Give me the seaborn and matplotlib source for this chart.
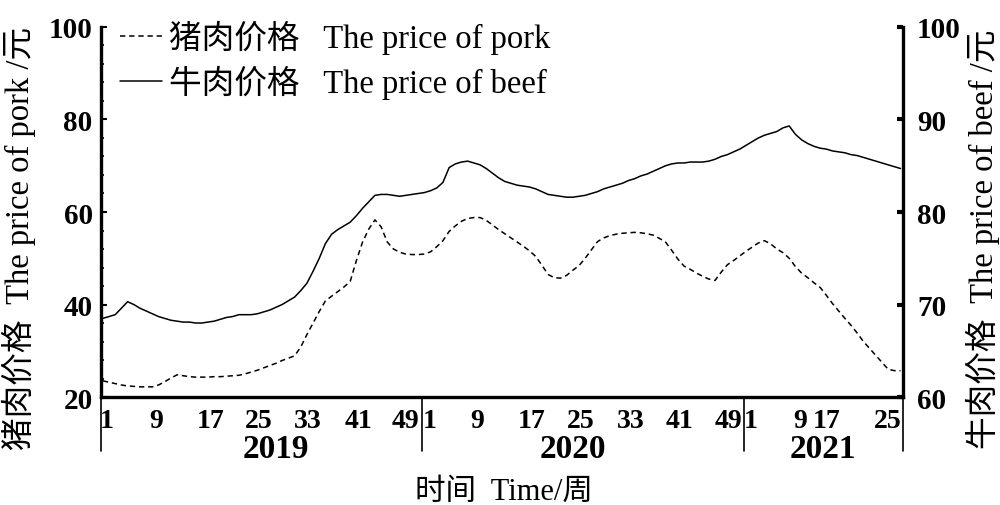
import numpy as np
import pandas as pd
import matplotlib
matplotlib.use("Agg")
import matplotlib.pyplot as plt
import matplotlib.transforms as mtransforms
import seaborn as sns

# ---------------- data ----------------
years = ["2019", "2020", "2021"]
weeks_per_year = [52, 52, 26]

pork = [
    23.5, 23.2, 22.9, 22.6, 22.4, 22.3, 22.2, 22.2, 22.2, 22.6,
    23.3, 24.1, 24.8, 24.6, 24.4, 24.3, 24.3, 24.3, 24.4, 24.4,
    24.5, 24.6, 24.7, 25.0, 25.4, 25.8, 26.3, 26.8, 27.3, 27.9,
    28.4, 28.9, 30.8, 33.5, 36.0, 38.5, 40.8, 41.8, 42.8, 43.8,
    45.0, 49.5, 53.5, 56.3, 58.3, 56.8, 53.5, 52.0, 51.3, 50.9,
    50.8, 50.8,
    50.9, 51.4, 52.5, 53.8, 55.8, 57.0, 58.0, 58.6, 58.8, 58.8,
    58.2, 57.2, 56.2, 55.3, 54.4, 53.5, 52.6, 51.6, 50.4, 48.5,
    46.5, 45.8, 45.7, 46.3, 47.4, 48.4, 50.0, 51.8, 53.6, 54.4,
    54.9, 55.2, 55.4, 55.5, 55.6, 55.5, 55.3, 55.0, 54.3, 53.5,
    51.7, 49.8, 48.3, 47.6, 46.8, 46.1, 45.5, 45.2, 47.0, 48.6,
    49.5, 50.5,
    51.5, 52.4, 53.3, 53.8, 53.1, 52.0, 51.2, 50.0, 48.2, 46.8,
    45.8, 44.7, 43.7, 42.0, 40.2, 38.6, 37.0, 35.5, 33.8, 32.0,
    30.5, 29.0, 27.5, 26.0, 25.7, 25.7,
]

beef = [
    68.5, 68.7, 68.9, 69.6, 70.3, 70.0, 69.6, 69.3, 69.0, 68.7,
    68.5, 68.3, 68.2, 68.1, 68.1, 68.0, 68.0, 68.1, 68.2, 68.4,
    68.6, 68.7, 68.9, 68.9, 68.9, 69.0, 69.2, 69.4, 69.7, 70.0,
    70.4, 70.8, 71.5, 72.3, 73.6, 75.0, 76.6, 77.6, 78.1, 78.5,
    78.9, 79.6, 80.4, 81.1, 81.8, 81.9, 81.9, 81.8, 81.7, 81.8,
    81.9, 82.0,
    82.1, 82.3, 82.6, 83.2, 84.8, 85.2, 85.4, 85.5, 85.3, 85.1,
    84.7, 84.2, 83.7, 83.3, 83.1, 82.9, 82.8, 82.7, 82.5, 82.2,
    81.9, 81.8, 81.7, 81.6, 81.6, 81.7, 81.8, 82.0, 82.2, 82.5,
    82.7, 82.9, 83.1, 83.4, 83.6, 83.9, 84.1, 84.4, 84.7, 85.0,
    85.2, 85.3, 85.3, 85.4, 85.4, 85.4, 85.5, 85.7, 86.0, 86.2,
    86.5, 86.8,
    87.2, 87.6, 88.0, 88.3, 88.5, 88.7, 89.1, 89.3, 88.4, 87.8,
    87.4, 87.1, 86.9, 86.8, 86.6, 86.5, 86.4, 86.2, 86.1, 85.9,
    85.7, 85.5, 85.3, 85.1, 84.9, 84.7,
]

tick_labels = ["1", "9", "17", "25", "33", "41", "49",
               "1", "9", "17", "25", "33", "41", "49",
               "1", "9", "17", "25"]
tick_positions = [0.6, 8.7, 17.4, 25.2, 33.2, 41.3, 49.0,
                  52.9, 60.5, 69.4, 77.3, 85.4, 93.2, 101.1,
                  104.7, 112.8, 117.0, 127.0]
year_label_positions = [28.0, 76.0, 116.5]
separators = [51.6, 103.7]

label_pork = "猪肉价格   The price of pork"
label_beef = "牛肉价格   The price of beef"
ylabel_left = "猪肉价格  The price of pork /元"
ylabel_right = "牛肉价格  The price of beef /元"
xlabel = "时间  Time/周"

# ---------------- style ----------------
sns.set_theme(style="white")
plt.rcParams["font.family"] = ["Liberation Serif", "Noto Sans CJK SC"]
plt.rcParams["text.color"] = "black"
plt.rcParams["axes.edgecolor"] = "black"
plt.rcParams["xtick.color"] = "black"
plt.rcParams["ytick.color"] = "black"

idx = np.arange(len(pork))
df = pd.DataFrame({"week": idx, "pork": pork, "beef": beef})

fig, ax = plt.subplots(figsize=(10, 5.06), dpi=100)
fig.subplots_adjust(left=0.101, right=0.903, bottom=0.2134, top=0.9447)
ax2 = ax.twinx()

sns.lineplot(data=df, x="week", y="pork", ax=ax, color="black",
             linewidth=1.1)
ax.lines[0].set_dashes((3.5, 2.5))
sns.lineplot(data=df, x="week", y="beef", ax=ax2, color="black",
             linewidth=1.1)

ax.set_xlim(-0.3, 129.4)
ax.set_ylim(20, 100)
ax2.set_ylim(60, 100)

ax.set_xlabel("")
ax.set_ylabel("")
ax2.set_ylabel("")

# spines
for a in (ax, ax2):
    a.spines["top"].set_visible(False)
    for s in a.spines.values():
        s.set_linewidth(2.4)
        s.set_color("black")
ax.spines["right"].set_visible(False)
ax2.spines["left"].set_visible(False)
ax2.spines["bottom"].set_visible(False)

# y ticks
ax.set_yticks([20, 40, 60, 80, 100])
ax.set_yticks(np.arange(20, 101, 4), minor=True)
ax.tick_params(axis="y", which="major", direction="in", length=4, width=1.5,
               labelsize=21, pad=6)
ax.tick_params(axis="y", which="minor", direction="in", length=2, width=1.2)
ax2.set_yticks([60, 70, 80, 90, 100])
ax2.tick_params(axis="y", which="major", direction="in", length=4, width=3,
                labelsize=21, pad=10)
for lab in ax.get_yticklabels() + ax2.get_yticklabels():
    lab.set_fontweight("bold")

# x ticks
ax.set_xticks(tick_positions)
ax.set_xticklabels(tick_labels)
ax.tick_params(axis="x", which="both", length=0, labelsize=20, pad=8)
for lab in ax.get_xticklabels():
    lab.set_fontweight("bold")

trans = mtransforms.blended_transform_factory(ax.transData, ax.transAxes)
trans_ax = ax.transAxes
for xs in separators:
    ax.plot([xs, xs], [0, -0.146], transform=trans, color="black",
            linewidth=1.2, clip_on=False)
for xs in (0, 1):
    ax.plot([xs, xs], [0, -0.146], transform=trans_ax, color="black",
            linewidth=1.2, clip_on=False)
for yl, xp in zip(years, year_label_positions):
    ax.text(xp, -0.138, yl, transform=trans, ha="center", va="center",
            fontsize=24, fontweight="bold")

fig.text(0.504, 0.028, xlabel, ha="center", va="center", fontsize=22)
fig.text(0.019, 0.528, ylabel_left, rotation=90, ha="center", va="center",
         fontsize=23.5)
fig.text(0.983, 0.528, ylabel_right, rotation=90, ha="center", va="center",
         fontsize=23.5)

# legend
h1 = ax.lines[0]
h2 = ax2.lines[0]
leg = ax2.legend([h1, h2], [label_pork, label_beef], loc="upper left",
                 bbox_to_anchor=(0.12, 0.958), bbox_transform=fig.transFigure,
                 frameon=False, fontsize=23.5, handlelength=1.3,
                 handletextpad=0.2, labelspacing=0.33, borderpad=0,
                 borderaxespad=0)

fig.savefig("out.png", dpi=100)
